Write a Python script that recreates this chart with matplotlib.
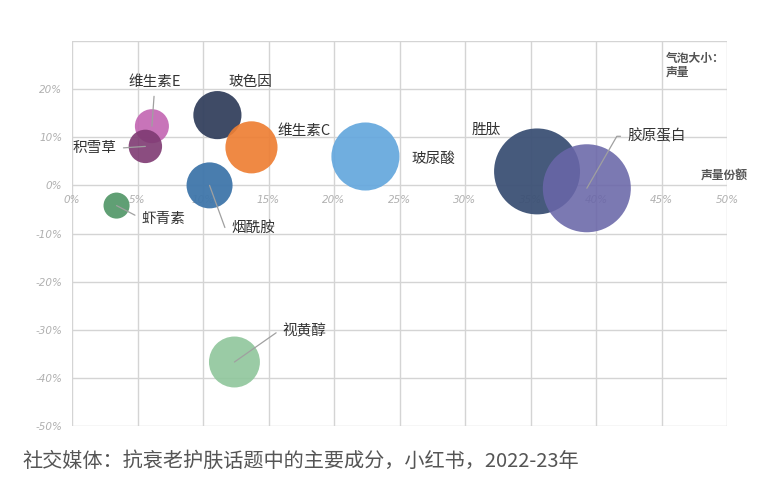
import matplotlib.pyplot as plt
from matplotlib.ticker import FuncFormatter

plt.rcParams['font.family'] = ['Noto Sans CJK SC', 'DejaVu Sans']

# --- Data (drawn back to front) ---
names = ['维生素E', '积雪草', '玻色因', '维生素C', '烟酰胺', '虾青素',
         '视黄醇', '玻尿酸', '胜肽', '胶原蛋白']
share = [6.1, 5.6, 11.1, 13.7, 10.5, 3.4, 12.4, 22.4, 35.5, 39.3]      # 声量份额 %
growth = [12.3, 8.1, 14.6, 7.9, 0.0, -4.2, -36.7, 6.0, 2.9, -0.6]      # y %
volume = [2.9, 2.8, 5.8, 6.8, 5.3, 1.7, 6.5, 11.6, 18.5, 19.4]         # 声量 (bubble area)
colors = ['#c265b2', '#7e3a72', '#34415e', '#ee7f34', '#3f76aa', '#4f9565',
          '#8fc69b', '#64a7dd', '#3c5175', '#6966a8']
alphas = [0.9, 0.9, 0.95, 0.92, 0.95, 0.9, 0.9, 0.92, 0.95, 0.88]

xticks = [0, 5, 10, 15, 20, 25, 30, 35, 40, 45, 50]
yticks = [-50, -40, -30, -20, -10, 0, 10, 20, 30]

# label placement: (x, y, ha, leader connection or None)
label_pos = {
    '维生素E': (6.3, 21.4, 'center', 'arc3'),
    '积雪草': (3.4, 7.7, 'right', 'arc3'),
    '玻色因': (13.6, 21.4, 'center', None),
    '维生素C': (15.7, 11.3, 'left', None),
    '烟酰胺': (12.2, -8.8, 'left', 'angle,angleA=0,angleB=-70,rad=0'),
    '虾青素': (5.3, -6.9, 'left', 'arc3'),
    '视黄醇': (16.1, -30.4, 'left', 'angle,angleA=0,angleB=35,rad=0'),
    '玻尿酸': (25.9, 5.6, 'left', None),
    '胜肽': (30.5, 11.6, 'left', None),
    '胶原蛋白': (42.4, 10.2, 'left', 'angle,angleA=0,angleB=60,rad=0'),
}
relpos = {'left': (0, 0.5), 'right': (1, 0.5), 'center': (0.5, 0)}

fig = plt.figure(figsize=(7.75, 4.93), dpi=100)
ax = fig.add_axes([72 / 775, 1 - 426 / 493, 655 / 775, 385 / 493])

for i, n in enumerate(names):
    ax.scatter(share[i], growth[i], s=volume[i] * 207, color=colors[i],
               alpha=alphas[i], edgecolors='none', zorder=3 + i)

for n, (tx, ty, ha, conn) in label_pos.items():
    i = names.index(n)
    if conn:
        ax.annotate(n, xy=(share[i], growth[i]), xytext=(tx, ty),
                    ha=ha, va='center', fontsize=10.5, color='#333333', zorder=20,
                    arrowprops=dict(arrowstyle='-', color='#a0a0a0', lw=0.9,
                                    shrinkA=3, shrinkB=0, relpos=relpos[ha],
                                    connectionstyle=conn))
    else:
        ax.text(tx, ty, n, ha=ha, va='center', fontsize=10.5,
                color='#333333', zorder=20)

ax.set_xlim(0, 50)
ax.set_ylim(-50, 30)
ax.set_xticks(xticks)
ax.set_yticks(yticks)
pct = FuncFormatter(lambda v, p: f'{v:.0f}%')
ax.xaxis.set_major_formatter(pct)
ax.yaxis.set_major_formatter(pct)
ax.grid(True, color='#d4d4d4', lw=1)
ax.set_axisbelow(True)
for s in ax.spines.values():
    s.set_visible(False)
ax.spines['bottom'].set_position(('data', 0))
ax.tick_params(length=0, colors='#b0b0b0', labelsize=7.5, pad=7)
for lab in ax.get_xticklabels() + ax.get_yticklabels():
    lab.set_family('DejaVu Sans')
    lab.set_style('italic')
ax.get_yticklabels()[-1].set_visible(False)

ax.text(49.8, 0.8, '声量份额', ha='center', va='bottom', fontsize=8.5,
        fontweight='bold', color='#555555', zorder=20)
ax.text(45.3, 24.9, '气泡大小：\n声量', ha='left', va='center', fontsize=8.5,
        fontweight='bold', color='#555555', linespacing=1.1, zorder=20)

fig.text(22 / 775, 1 - 461 / 493, '社交媒体：抗衰老护肤话题中的主要成分，小红书，2022-23年',
         ha='left', va='center', fontsize=14.5, color='#555555')

fig.savefig('out.png', dpi=100)
